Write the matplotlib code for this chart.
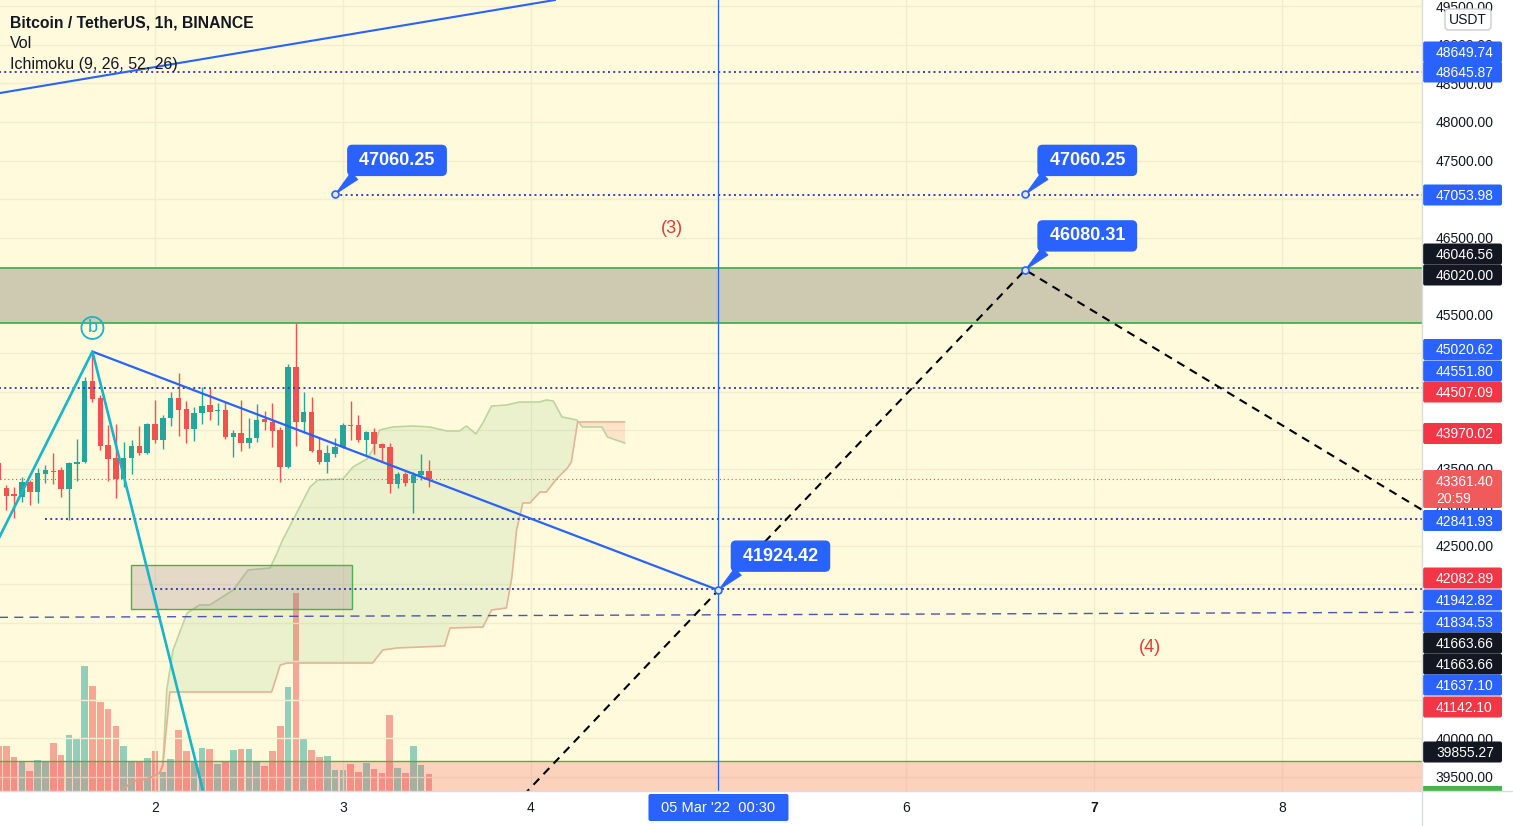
import numpy as np
import matplotlib
matplotlib.use("Agg")
import matplotlib.pyplot as plt
from matplotlib.patches import Rectangle, FancyBboxPatch

plt.rcParams['font.family'] = ['Liberation Sans', 'DejaVu Sans']

# ------------------------------------------------------------------ data
# hours counted from 01 Mar 2022 00:00 (BTCUSDT, 1h, BINANCE)
candle_hours = list(range(4, 60))
opens = [43575, 43250, 43172, 43133, 43328, 43198, 43432, 43477, 43484, 43237,
         43562, 43588, 44639, 44418, 43808, 43640, 43367, 43640, 43795, 43704,
         44081, 43873, 44159, 44418, 44275, 44016, 44223, 44327, 44250, 44262,
         43912, 43964, 43834, 43899, 44146, 44107, 44003, 43523, 44820, 44107,
         44236, 43743, 43588, 43691, 43782, 44068, 44068, 43873, 43977, 43821,
         43782, 43302, 43432, 43315, 43419, 43471]
highs = [43600, 43289, 43263, 43393, 43354, 43510, 43549, 43708, 43523, 43588,
         43886, 44691, 45020, 44457, 44068, 44081, 43847, 43873, 44055, 44094,
         44392, 44198, 44496, 44743, 44379, 44301, 44561, 44548, 44353, 44366,
         44003, 44392, 44159, 44340, 44250, 44353, 44042, 44859, 45391, 44496,
         44431, 43912, 43808, 43899, 44094, 44379, 44198, 43990, 44029, 43834,
         43834, 43458, 43458, 43458, 43691, 43614]
lows = [43330, 42965, 42861, 43069, 43030, 43056, 43315, 43302, 43133, 42840,
        43345, 43575, 44366, 43743, 43341, 43120, 43263, 43432, 43678, 43691,
        43834, 43756, 44055, 43925, 43834, 43860, 44081, 44133, 44068, 43886,
        43652, 43730, 43769, 43847, 44003, 43782, 43328, 43510, 43795, 43964,
        43717, 43562, 43445, 43652, 43769, 43873, 43847, 43665, 43691, 43588,
        43185, 43250, 43276, 42926, 43354, 43263]
closes = [43354, 43146, 43146, 43328, 43198, 43445, 43484, 43464, 43237, 43575,
          43591, 44639, 44405, 43795, 43627, 43367, 43640, 43795, 43704, 44081,
          43873, 44159, 44418, 44262, 44016, 44223, 44314, 44236, 44262, 43912,
          43964, 43834, 43899, 44133, 44107, 43990, 43523, 44820, 44107, 44236,
          43730, 43588, 43704, 43782, 44068, 44059, 43873, 43977, 43821, 43769,
          43302, 43432, 43315, 43419, 43471, 43361.40]
volumes = [900, 900, 680, 580, 400, 620, 580, 960, 720, 1120,
           1060, 2500, 2100, 1780, 1640, 1300, 900, 580, 580, 660,
           800, 380, 640, 1220, 800, 580, 860, 840, 540, 580,
           820, 840, 840, 580, 500, 800, 1300, 2080, 3960, 1060,
           820, 680, 700, 420, 420, 540, 380, 560, 440, 360,
           1520, 460, 360, 900, 520, 340]

# Ichimoku leading spans (break points)
span_a_hours = [19.5, 21.2, 23.0, 24.6, 25.0, 25.5, 26.3, 28.1, 29.7, 31.0, 34.0, 35.9,
                38.7, 39.6, 40.3, 42.5, 43.8, 44.8, 48.0, 49.3, 51.1, 51.8, 52.7,
                54.4, 56.9, 59.1, 61.3, 62.9, 63.8, 65.0, 65.9, 67.0, 68.9, 70.6,
                73.1, 74.0, 74.9, 76.0, 77.9, 78.6, 81.1, 81.8, 84.0]
span_a = [39305, 39448, 39474, 39552, 39656, 40629, 41148, 41628, 41732, 41732, 41927, 42186,
          42212, 42407, 42575, 43004, 43263, 43354, 43367, 43523, 43627, 43743, 44003,
          44042, 44055, 44042, 43990, 43990, 44055, 43951, 44094, 44314, 44327, 44366,
          44366, 44392, 44379, 44172, 44133, 44042, 44042, 43912, 43834]
span_b_hours = [19.5, 21.2, 23.0, 24.6, 25.0, 25.9, 38.9, 40.0, 40.9, 51.8, 53.1, 54.9,
                61.0, 61.7, 65.9, 67.0, 68.9, 69.6, 70.2, 71.0, 71.9, 73.2, 74.0,
                75.3, 76.7, 77.2, 78.0, 84.0]
span_b = [39305, 39448, 39474, 39552, 39656, 40603, 40603, 40953, 40979, 40979, 41148, 41174,
          41200, 41433, 41446, 41667, 41693, 42095, 42705, 43056, 43056, 43198, 43198,
          43367, 43510, 43588, 44107, 44107]

price_ticks = list(range(39500, 50000, 500))
day_tick_hours = [24, 48, 72, 120, 144, 168]
day_tick_labels = ['2', '3', '4', '6', '7', '8']

# drawings
wave_hours = [-4, 16, 34]
wave_prices = [40970, 45020.62, 37760]
down_trend_hours = [16, 96]
down_trend_prices = [45020.62, 41924.42]
top_trend_hours = [4.2, 75.1]
top_trend_prices = [48376, 49583]
projection_hours = [66, 96, 135.2, 190]
projection_prices = [38720, 41924.42, 46080.31, 42715]
dashed_hours = [0, 186]
dashed_prices = [41570, 41637.10]
dotted_levels = [48647.0, 47053.98, 44551.80, 42841.93, 41942.82]
dotted_starts = [0, 47, 0, 10, 24]
last_price = 43361.40
zone_prices = [45388, 46100]
small_box_hours = [20.9, 49.2]
small_box_prices = [41680, 42251]
band_top = 39705
vline_hour = 96.0
callout_hours = [47, 135.2, 135.2, 96]
callout_prices = [47060.25, 47060.25, 46080.31, 41924.42]
wave_labels = ['(3)', '(4)']
wave_label_hours = [90.06, 151.1]
wave_label_prices = [46624, 41174]
b_label_hour, b_label_price = 16, 45327

# right price-scale labels
scale_values = ['48649.74', '48645.87', '47053.98', '46046.56', '46020.00', '45020.62',
                '44551.80', '44507.09', '43970.02', '42841.93', '42082.89', '41942.82',
                '41834.53', '41663.66', '41663.66', '41637.10', '41142.10', '39855.27']
scale_kinds = ['b', 'b', 'b', 'k', 'k', 'b', 'b', 'r', 'r', 'b', 'r', 'b', 'b', 'k', 'k',
               'b', 'r', 'k']

# ------------------------------------------------------------------ style / layout
W, H = 1513, 826
PLOT_R, PLOT_B = 1422, 791
BG = '#fffadc'
GRID = '#f1edcf'
GREEN = '#26a69a'
RED = '#ef5350'
BLUE = '#2962ff'
CYAN = '#17b4cb'
DOT = '#3c40ae'
TXT = '#131722'
KIND = {'b': BLUE, 'r': '#f23645', 'k': '#131722'}
label_rows = [52, 72, 195, 254, 275, 349.5, 371, 392, 433.5, 520.5, 578, 600, 622, 643,
              664, 685, 707, 752]
last_box = (470, 508)   # pixel rows of the last-price badge

fig = plt.figure(figsize=(W / 100, H / 100), dpi=100, facecolor='white')
rect = [0, (H - PLOT_B) / H, PLOT_R / W, PLOT_B / H]

xlim = (4.19, 185.9)
ylim = (39318, 49583)

# volume pane (behind)
vax = fig.add_axes(rect, zorder=0)
vax.set_facecolor(BG)
vax.set_xlim(*xlim)
vax.set_ylim(0, 15820)
vax.set_xticks([])
vax.set_yticks([])
for s in vax.spines.values():
    s.set_visible(False)
o = np.array(opens, float)
c = np.array(closes, float)
up = c >= o
vcol = [(38/255, 166/255, 154/255, 0.5) if u else (239/255, 83/255, 80/255, 0.5) for u in up]
vax.bar(candle_hours, volumes, width=0.85, color=vcol, linewidth=0)

# main pane
ax = fig.add_axes(rect, zorder=1)
ax.set_facecolor('none')
ax.set_xlim(*xlim)
ax.set_ylim(*ylim)
for s in ax.spines.values():
    s.set_visible(False)


def covered(py):
    """True when a scale tick label at pixel row py is (almost) hidden under the badges."""
    spans = [(r - 11, r + 11) for r in label_rows] + [(last_box[0], last_box[1] + 1)]
    for yy in np.arange(py - 4.5, py + 4.51, 0.5):
        if not any(a <= yy <= b for a, b in spans):
            return False
    return True


tick_px = [H - ax.transData.transform((xlim[0], p))[1] for p in price_ticks]
ax.yaxis.tick_right()
ax.set_yticks(price_ticks)
ax.set_yticklabels(['' if covered(py) else f'{p:.2f}' for p, py in zip(price_ticks, tick_px)])
ax.tick_params(axis='y', length=0, pad=10, labelsize=10, labelcolor=TXT)
ax.set_xticks(day_tick_hours)
ax.set_xticklabels(day_tick_labels)
ax.tick_params(axis='x', length=0, pad=7, labelsize=10, labelcolor=TXT)
ax.get_xticklabels()[4].set_fontweight('bold')
for t in day_tick_hours:
    ax.axvline(t, color=GRID, lw=1, zorder=0.2)
for p in price_ticks:
    ax.axhline(p, color=GRID, lw=1, zorder=0.2)

# ichimoku cloud
gh = np.union1d(span_a_hours, span_b_hours)
ai = np.interp(gh, span_a_hours, span_a)
bi = np.interp(gh, span_b_hours, span_b)
ax.fill_between(gh, ai, bi, where=ai >= bi, interpolate=True,
                color=(76/255, 175/255, 80/255, 0.11), lw=0, zorder=1)
ax.fill_between(gh, ai, bi, where=ai < bi, interpolate=True,
                color=(244/255, 67/255, 54/255, 0.12), lw=0, zorder=1)
ax.plot(span_a_hours, span_a, color='#bcd5a0', lw=1.2, zorder=1.2)
ax.plot(span_b_hours, span_b, color='#e3b596', lw=1.2, zorder=1.2)

# candles
ccol = np.where(up, GREEN, RED)
ax.vlines(candle_hours, lows, highs, colors=ccol, lw=1, zorder=2)
ax.bar(candle_hours, np.maximum(np.abs(c - o), 12), bottom=np.minimum(o, c),
       width=0.7, color=ccol, linewidth=0, zorder=2.1)

# zones
ax.add_patch(Rectangle((-10, 38000), 220, band_top - 38000,
                       fc=(242/255, 54/255, 69/255, 0.2), ec='#4caf50', lw=1, zorder=2.5))
ax.add_patch(Rectangle((-10, zone_prices[0]), 220, zone_prices[1] - zone_prices[0],
                       fc='#cec9b1', ec='#4caf50', lw=1.3, zorder=2.5))
ax.add_patch(Rectangle((small_box_hours[0], small_box_prices[0]),
                       small_box_hours[1] - small_box_hours[0],
                       small_box_prices[1] - small_box_prices[0],
                       fc=(150/255, 120/255, 140/255, 0.25), ec='#4caf50', lw=1, zorder=2.5))

# horizontal levels
for lv, st in zip(dotted_levels, dotted_starts):
    ax.hlines(lv, st, 200, colors=DOT, lw=1.4, linestyles=(0, (1, 1.7)), zorder=3)
ax.plot(dashed_hours, dashed_prices, color='#4a56b0', lw=1, ls=(0, (6.5, 4.5)), zorder=3)
ax.axhline(last_price, color=RED, lw=0.8, ls=(0, (1, 2.5)), zorder=3)
ax.axvline(vline_hour, color=BLUE, lw=0.9, zorder=3)

# trend lines / waves
ax.axline((top_trend_hours[0], top_trend_prices[0]), (top_trend_hours[1], top_trend_prices[1]),
          color=BLUE, lw=1.5, zorder=3.5)
ax.plot(down_trend_hours, down_trend_prices, color=BLUE, lw=1.6, zorder=3.5)
ax.plot(wave_hours, wave_prices, color=CYAN, lw=1.9, zorder=3.5)
ax.plot(projection_hours, projection_prices, color='black', lw=1.5, ls=(0, (4, 3)), zorder=3.6)
ax.text(b_label_hour, b_label_price, 'b', color=CYAN, fontsize=13, ha='center', va='center',
        bbox=dict(boxstyle='circle,pad=0.14', fc='none', ec=CYAN, lw=1.3), zorder=4)
for t, h, p in zip(wave_labels, wave_label_hours, wave_label_prices):
    ax.text(h, p, t, color='#e53935', fontsize=13, ha='center', va='center', zorder=4)

# callouts
for h, p in zip(callout_hours, callout_prices):
    ax.annotate(f' {p:.2f} ', xy=(h, p), xytext=(62, 34), textcoords='offset pixels',
                ha='center', va='center', color='white', fontsize=13, fontweight='bold',
                bbox=dict(boxstyle='round,pad=0.36,rounding_size=0.25', fc=BLUE, ec=BLUE),
                arrowprops=dict(arrowstyle='wedge,tail_width=0.55', fc=BLUE, ec=BLUE, lw=0.5,
                                shrinkA=0, shrinkB=0, relpos=(0.12, 0.15)),
                zorder=6)
    ax.plot([h], [p], marker='o', ms=5, mfc='#dfe7ff', mec=BLUE, mew=1.2, zorder=6.5)

# ------------------------------------------------------------------ overlay (scales, legend)
ov = fig.add_axes([0, 0, 1, 1], zorder=10)
ov.set_xlim(0, W)
ov.set_ylim(H, 0)
ov.axis('off')
ov.plot([PLOT_R, PLOT_R], [0, H], color='#dadce3', lw=1)
ov.plot([0, W], [PLOT_B, PLOT_B], color='#dadce3', lw=1)

for val, kind, row in zip(scale_values, scale_kinds, label_rows):
    ov.add_patch(FancyBboxPatch((1423, row - 10.5), 79, 21,
                                boxstyle='round,pad=0,rounding_size=2', fc=KIND[kind], ec='none'))
    ov.text(1436, row + 5, val, color='white', fontsize=10, va='baseline', ha='left')
# last price label with countdown
ov.add_patch(FancyBboxPatch((1423, last_box[0]), 79, last_box[1] - last_box[0],
                            boxstyle='round,pad=0,rounding_size=2', fc='#f05a5a', ec='none'))
ov.text(1436, 486, f'{last_price:.2f}', color='white', fontsize=10, va='baseline')
ov.text(1436, 503, '20:59', color='white', fontsize=10, va='baseline')
ov.add_patch(Rectangle((1423, 786), 79, 5, fc='#4caf50', ec='none'))
# currency badge
ov.add_patch(FancyBboxPatch((1445, 9), 46, 21, boxstyle='round,pad=0,rounding_size=4',
                            fc='white', ec='#c9ccd4', lw=1))
ov.text(1468, 20, 'USDT', color=TXT, fontsize=10, ha='center', va='center')

# crosshair time label
vx = ax.transData.transform((vline_hour, ylim[0]))[0]
ov.add_patch(FancyBboxPatch((vx - 70, 794), 140, 27, boxstyle='round,pad=0,rounding_size=2',
                            fc=BLUE, ec='none'))
ov.text(vx, 808, "05 Mar '22  00:30", color='white', fontsize=10.5, ha='center', va='center')

# legend
ov.text(10, 27, 'Bitcoin / TetherUS, 1h, BINANCE', color=TXT, fontsize=11.3,
        fontweight='bold', va='baseline')
ov.text(10, 48, 'Vol', color=TXT, fontsize=11.5, va='baseline')
ov.text(10, 69, 'Ichimoku (9, 26, 52, 26)', color=TXT, fontsize=11.5, va='baseline')

fig.savefig('out.png', dpi=100, facecolor='white')
